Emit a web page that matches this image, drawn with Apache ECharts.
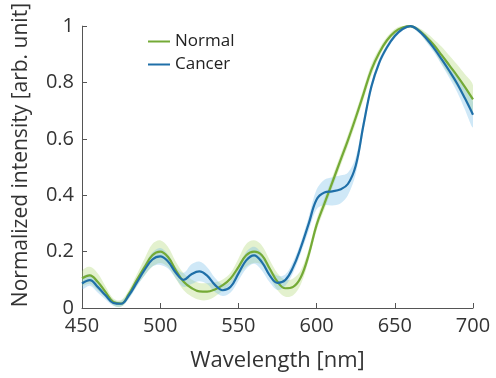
<!DOCTYPE html>
<html>
<head>
<meta charset="utf-8">
<script src="https://cdn.jsdelivr.net/npm/echarts@6/dist/echarts.min.js"></script>
<style>
html,body{margin:0;padding:0;background:#fff;}
#chart{width:496px;height:378px;}
</style>
</head>
<body>
<div id="chart"></div>
<script>
const wavelength = [450,455,460,465,470,475,480,485,490,495,500,505,510,515,520,525,530,535,540,545,550,555,560,565,570,575,580,585,590,595,600,605,610,615,620,625,630,635,640,645,650,655,660,665,670,675,680,685,690,695,700];
const normal = [0.105,0.116,0.093,0.057,0.022,0.016,0.050,0.099,0.145,0.187,0.200,0.181,0.134,0.093,0.071,0.059,0.058,0.066,0.081,0.105,0.145,0.187,0.200,0.187,0.140,0.093,0.070,0.075,0.110,0.190,0.295,0.370,0.445,0.520,0.595,0.675,0.760,0.845,0.905,0.950,0.980,0.995,1.000,0.987,0.962,0.933,0.897,0.860,0.823,0.783,0.740];
const cancer = [0.087,0.099,0.075,0.045,0.018,0.015,0.045,0.090,0.135,0.172,0.183,0.165,0.125,0.100,0.120,0.130,0.115,0.082,0.063,0.075,0.122,0.169,0.187,0.163,0.116,0.089,0.099,0.145,0.216,0.300,0.385,0.410,0.414,0.420,0.440,0.505,0.650,0.785,0.870,0.925,0.965,0.990,1.000,0.985,0.957,0.922,0.882,0.840,0.795,0.742,0.686];
const normalSpread = [0.025,0.03,0.03,0.02,0.012,0.012,0.015,0.02,0.03,0.04,0.04,0.035,0.03,0.03,0.03,0.03,0.03,0.025,0.02,0.02,0.03,0.04,0.04,0.035,0.03,0.03,0.03,0.03,0.025,0.02,0.02,0.02,0.02,0.02,0.02,0.02,0.02,0.02,0.015,0.012,0.01,0.008,0.006,0.008,0.015,0.02,0.03,0.035,0.04,0.045,0.05];
const cancerSpread = [0.02,0.02,0.02,0.015,0.01,0.01,0.012,0.015,0.02,0.025,0.03,0.025,0.02,0.025,0.035,0.035,0.03,0.025,0.02,0.02,0.025,0.03,0.03,0.03,0.025,0.025,0.02,0.02,0.02,0.025,0.035,0.045,0.05,0.05,0.04,0.03,0.02,0.015,0.012,0.01,0.008,0.006,0.005,0.008,0.012,0.015,0.02,0.025,0.03,0.04,0.045];
const xTicks = {min:450, max:700, interval:50};
const yTicks = {min:0, max:1, interval:0.2};
const seriesNames = ['Normal','Cancer'];

const FONT = 'Open Sans';
const greenLine = '#74aa36';
const blueLine = '#1f6fa8';
const greenBand = 'rgba(175,214,115,0.35)';
const blueBand = 'rgba(110,185,232,0.33)';

function pairs(vals){ return wavelength.map((w,i)=>[w, vals[i]]); }
function bandSeries(vals, spread, color){
  const lo = vals.map((v,i)=>v - spread[i]);
  const hi = vals.map((v,i)=>v + spread[i]);
  return {
    type:'custom', silent:true, z:1, clip:true,
    data: wavelength.map((w,i)=>[w, lo[i], hi[i]]),
    encode:{x:0, y:[1,2]},
    renderItem:function(params, api){
      if (params.dataIndex !== 0) return null;
      const top = wavelength.map((w,i)=>api.coord([w, hi[i]]));
      const bot = wavelength.map((w,i)=>api.coord([w, lo[i]])).reverse();
      return {type:'polygon', shape:{points:top.concat(bot), smooth:0.35}, style:{fill:color}};
    }
  };
}

const chart = echarts.init(document.getElementById('chart'), null, {renderer:'canvas'});
chart.setOption({
  animation:false,
  backgroundColor:'#fff',
  grid:{left:82, right:23, top:24, bottom:70, containLabel:false},
  legend:{
    data:seriesNames, orient:'vertical', left:143, top:28, itemGap:6,
    itemWidth:22, itemHeight:2, icon:'rect',
    textStyle:{fontFamily:FONT, fontSize:17, color:'#222'}
  },
  xAxis:{
    type:'value', min:xTicks.min, max:xTicks.max, interval:xTicks.interval,
    name:'Wavelength [nm]', nameLocation:'middle', nameGap:42,
    nameTextStyle:{fontFamily:FONT, fontSize:22, color:'#333'},
    axisLine:{lineStyle:{color:'#555', width:1}},
    axisTick:{inside:true, length:5, lineStyle:{color:'#555'}},
    axisLabel:{fontFamily:FONT, fontSize:20, color:'#333', margin:8},
    splitLine:{show:false}
  },
  yAxis:{
    type:'value', min:yTicks.min, max:yTicks.max, interval:yTicks.interval,
    name:'Normalized intensity [arb. unit]', nameLocation:'middle', nameGap:50,
    nameTextStyle:{fontFamily:FONT, fontSize:21, color:'#333', padding:[0,0,0,24]},
    axisLine:{show:true, lineStyle:{color:'#555', width:1}},
    axisTick:{show:true, inside:true, length:5, lineStyle:{color:'#555'}},
    axisLabel:{fontFamily:FONT, fontSize:20, color:'#333', margin:8},
    splitLine:{show:false}
  },
  series:[
    bandSeries(normal, normalSpread, greenBand),
    bandSeries(cancer, cancerSpread, blueBand),
    {name:seriesNames[0], type:'line', data:pairs(normal), smooth:0.4, symbol:'none', color:greenLine,
     lineStyle:{width:2.2, color:greenLine}, z:3},
    {name:seriesNames[1], type:'line', data:pairs(cancer), smooth:0.4, symbol:'none', color:blueLine,
     lineStyle:{width:2.2, color:blueLine}, z:4}
  ]
});
</script>
</body>
</html>
